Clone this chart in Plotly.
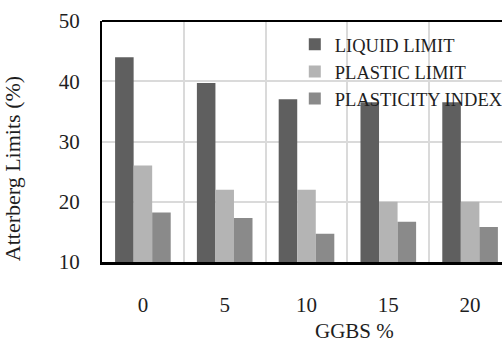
import plotly.graph_objects as go

categories = ["0", "5", "10", "15", "20"]
liquid_limit = [44.0, 39.7, 37.0, 36.5, 36.5]
plastic_limit = [26.0, 22.0, 22.0, 20.0, 20.0]
plasticity_index = [18.2, 17.3, 14.7, 16.7, 15.8]
y_ticks = [10, 20, 30, 40, 50]

FONT = "Liberation Serif, Times New Roman, serif"
TXT = "#1e1e1e"

fig = go.Figure()
fig.add_trace(go.Bar(x=categories, y=liquid_limit, name="LIQUID LIMIT",
                     marker=dict(color="#5f5f5f", line=dict(width=0))))
fig.add_trace(go.Bar(x=categories, y=plastic_limit, name="PLASTIC LIMIT",
                     marker=dict(color="#b4b4b4", line=dict(width=0))))
fig.add_trace(go.Bar(x=categories, y=plasticity_index, name="PLASTICITY INDEX",
                     marker=dict(color="#8a8a8a", line=dict(width=0))))

fig.update_layout(
    width=502, height=345,
    margin=dict(l=102, r=0, t=21, b=83, pad=0, autoexpand=False),
    paper_bgcolor="white", plot_bgcolor="white",
    barmode="group", bargap=0.32, bargroupgap=0,
    font=dict(family=FONT, color=TXT, size=20),
    showlegend=True,
    legend=dict(x=0.482, y=0.98, xanchor="left", yanchor="top",
                bgcolor="rgba(0,0,0,0)", font=dict(family=FONT, size=18.5, color=TXT),
                tracegroupgap=0, itemwidth=30),
    xaxis=dict(type="category", range=[-0.5, 4.39], tickson="boundaries", automargin=False,
               showgrid=True, gridcolor="#dadada", gridwidth=2,
               ticks="", showline=True, linecolor="black", linewidth=3,
               ticklabelstandoff=22, tickfont=dict(size=21), zeroline=False),
    yaxis=dict(range=[10, 50], tickvals=y_ticks, showgrid=True, gridcolor="#dadada", gridwidth=2,
               automargin=False,
               ticks="", showline=True, linecolor="black", linewidth=2,
               ticklabelstandoff=16, tickfont=dict(size=21), zeroline=False),
    shapes=[dict(type="line", xref="paper", yref="paper", x0=0, x1=1, y0=1, y1=1,
                 line=dict(color="black", width=2))],
    annotations=[
        dict(text="GGBS %", xref="paper", yref="paper", x=0.63, y=-0.285,
             xanchor="center", yanchor="middle", showarrow=False,
             font=dict(family=FONT, size=21, color=TXT)),
        dict(text="Atterberg Limits (%)", xref="paper", yref="paper", x=-0.225, y=0.385,
             xanchor="center", yanchor="middle", textangle=-90, showarrow=False,
             font=dict(family=FONT, size=22, color=TXT)),
    ],
)

fig.write_html("out.html", config={"displayModeBar": False},
               post_script="document.body.style.margin='0px';")
